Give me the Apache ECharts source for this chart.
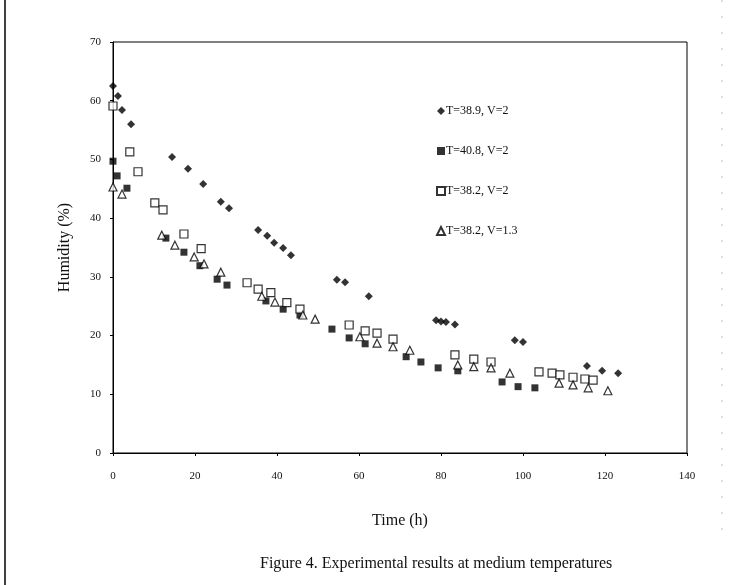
<!DOCTYPE html>
<html>
<head>
<meta charset="utf-8">
<script src="https://cdn.jsdelivr.net/npm/echarts@6/dist/echarts.min.js"></script>
<style>html,body{margin:0;padding:0;background:#fff}#c{width:730px;height:585px}</style>
</head>
<body>
<div id="c"></div>
<script>
const seriesNames = ['T=38.9, V=2', 'T=40.8, V=2', 'T=38.2, V=2', 'T=38.2, V=1.3'];
const xTicks = [0, 20, 40, 60, 80, 100, 120, 140];
const yTicks = [0, 10, 20, 30, 40, 50, 60, 70];
const s1 = [[0,62.5],[1.2,60.8],[2.2,58.4],[4.4,56.0],[14.4,50.4],[18.3,48.4],[22.0,45.8],[26.3,42.8],[28.3,41.7],[35.4,38.0],[37.6,37.0],[39.3,35.8],[41.5,34.9],[43.4,33.7],[54.6,29.5],[56.6,29.1],[62.4,26.7],[78.8,22.6],[80.0,22.4],[81.2,22.3],[83.4,21.9],[98.0,19.2],[100.0,18.9],[115.6,14.8],[119.3,14.0],[123.2,13.6]];
const s2 = [[0,49.7],[1.0,47.2],[3.4,45.1],[12.9,36.6],[17.3,34.2],[21.2,31.9],[25.4,29.6],[27.8,28.6],[37.3,25.9],[41.5,24.5],[45.6,23.5],[53.4,21.1],[57.6,19.6],[61.5,18.6],[71.5,16.4],[75.1,15.5],[79.3,14.5],[84.1,14.0],[94.9,12.1],[98.8,11.3],[102.9,11.1]];
const s3 = [[0,59.1],[4.1,51.3],[6.1,47.9],[10.2,42.6],[12.2,41.4],[17.3,37.3],[21.5,34.8],[32.7,29.0],[35.4,27.9],[38.5,27.3],[42.4,25.6],[45.6,24.5],[57.6,21.8],[61.5,20.8],[64.4,20.4],[68.3,19.4],[83.4,16.7],[88.0,16.0],[92.2,15.5],[103.9,13.8],[107.1,13.6],[109.0,13.3],[112.2,12.9],[115.1,12.6],[117.1,12.4]];
const s4 = [[0,45.3],[2.2,44.1],[11.9,37.1],[15.1,35.4],[19.8,33.4],[22.2,32.2],[26.3,30.8],[36.3,26.7],[39.5,25.7],[46.3,23.5],[49.3,22.8],[60.2,19.8],[64.4,18.7],[68.3,18.1],[72.4,17.5],[84.1,15.0],[88.0,14.7],[92.2,14.5],[96.8,13.6],[108.8,11.9],[112.2,11.6],[115.9,11.1],[120.7,10.6]];

const FONT = '"Liberation Serif", "DejaVu Serif", serif';
const chart = echarts.init(document.getElementById('c'), null, {renderer: 'canvas'});
const filled = {color: '#000', borderColor: '#000', borderWidth: 0};
const open = {color: '#fff', borderColor: '#000', borderWidth: 1.2};
chart.setOption({
  animation: false,
  backgroundColor: '#fff',
  title: {
    text: 'Figure 4. Experimental results at medium temperatures',
    left: 255, top: 551,
    textStyle: {fontFamily: FONT, fontSize: 16, fontWeight: 'normal', color: '#111'}
  },
  legend: {
    orient: 'vertical', left: 431, top: 100, itemGap: 28,
    itemWidth: 8, itemHeight: 8,
    textStyle: {fontFamily: FONT, fontSize: 12, color: '#111', padding: [0,0,0,-4]},
    data: seriesNames
  },
  grid: {left: 113, right: 43, top: 42, bottom: 132, show: true, borderColor: '#000', borderWidth: 1},
  xAxis: {
    type: 'value', min: 0, max: 140, interval: 20,
    name: 'Time (h)', nameLocation: 'middle', nameGap: 60,
    nameTextStyle: {fontFamily: FONT, fontSize: 16, color: '#111'},
    axisLine: {show: true, lineStyle: {color: '#000', width: 1}},
    axisTick: {show: true, inside: false, length: 3, lineStyle: {color: '#000'}},
    axisLabel: {fontFamily: FONT, fontSize: 11, color: '#111', margin: 18,
      formatter: v => xTicks.includes(v) ? String(v) : ''},
    splitLine: {show: false}
  },
  yAxis: {
    type: 'value', min: 0, max: 70, interval: 10,
    name: 'Humidity (%)', nameLocation: 'middle', nameGap: 40,
    nameTextStyle: {fontFamily: FONT, fontSize: 16, color: '#111'},
    axisLine: {show: true, lineStyle: {color: '#000', width: 1}},
    axisTick: {show: true, inside: false, length: 3, lineStyle: {color: '#000'}},
    axisLabel: {fontFamily: FONT, fontSize: 11, color: '#111', margin: 12,
      formatter: v => yTicks.includes(v) ? String(v) : ''},
    splitLine: {show: false}
  },
  series: [
    {name: seriesNames[0], type: 'scatter', symbol: 'diamond', symbolSize: 8, data: s1, itemStyle: filled},
    {name: seriesNames[1], type: 'scatter', symbol: 'rect', symbolSize: 7, data: s2, itemStyle: filled},
    {name: seriesNames[2], type: 'scatter', symbol: 'rect', symbolSize: 8, data: s3, itemStyle: open},
    {name: seriesNames[3], type: 'scatter', symbol: 'triangle', symbolSize: 8, data: s4, itemStyle: open}
  ],
  graphic: [
    {type: 'line', shape: {x1: 5, y1: 0, x2: 5, y2: 585}, style: {stroke: '#000', lineWidth: 1.5}},
    {type: 'line', shape: {x1: 722, y1: 0, x2: 722, y2: 540}, style: {stroke: '#bbb', lineWidth: 1, lineDash: [2, 14]}}
  ]
});
</script>
</body>
</html>
